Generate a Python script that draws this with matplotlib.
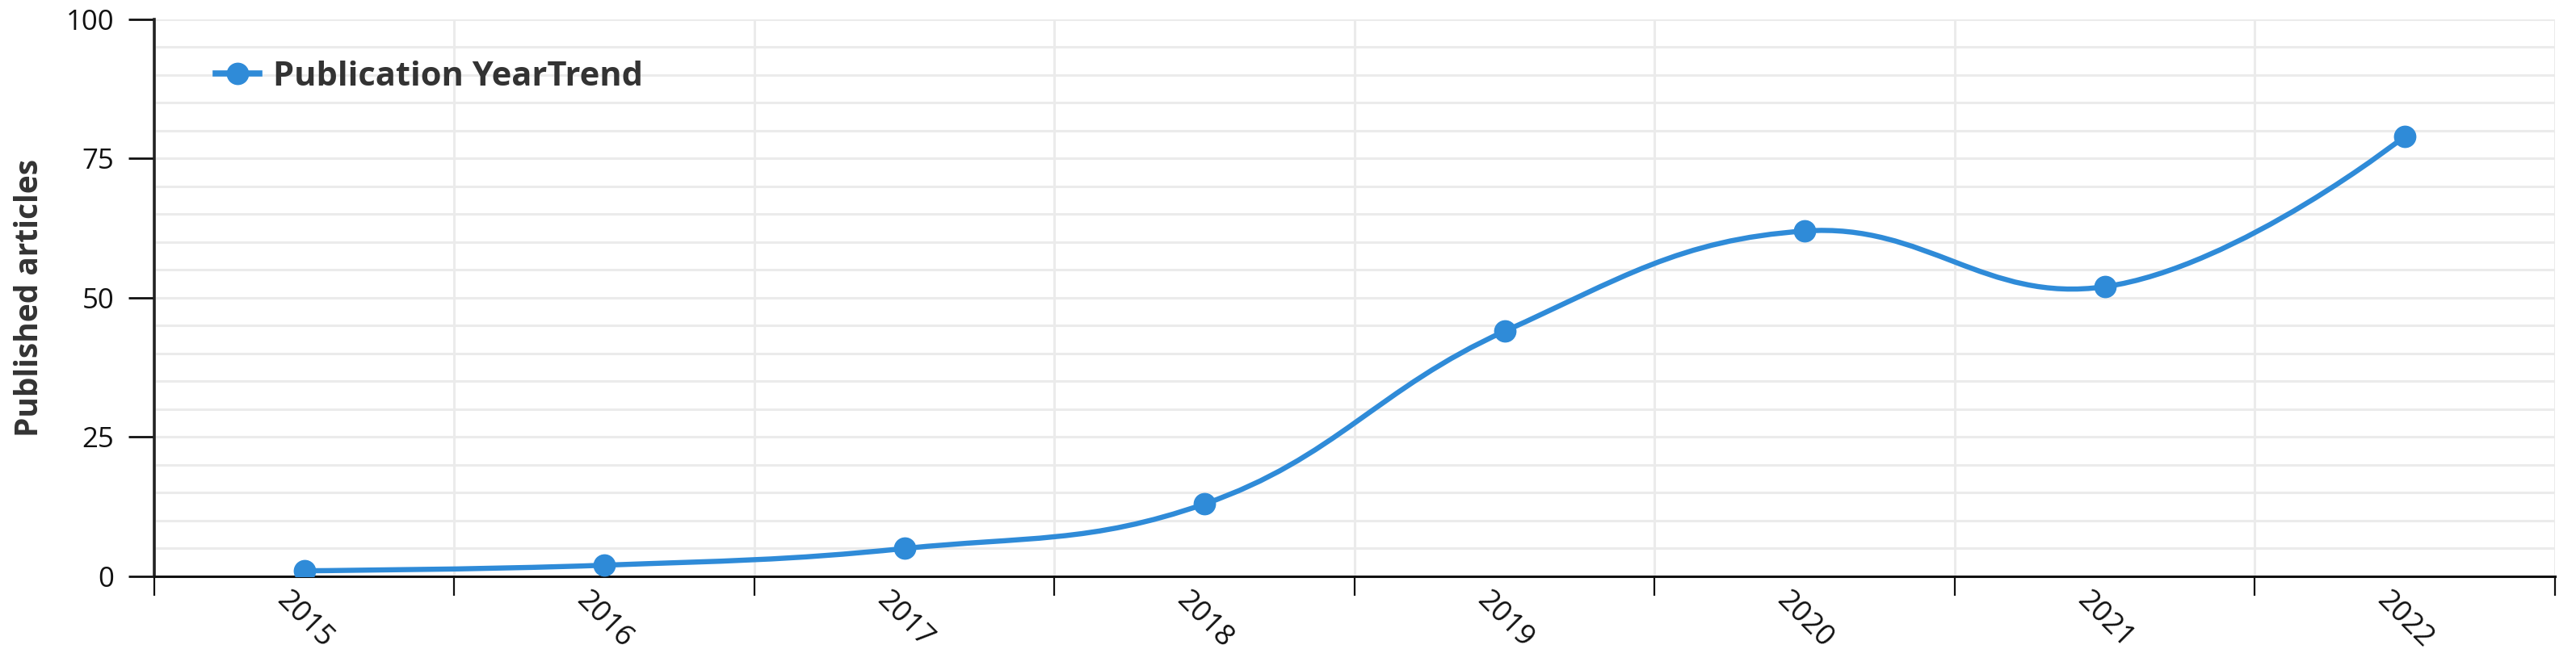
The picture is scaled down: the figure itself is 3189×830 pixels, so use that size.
import numpy as np
import matplotlib.pyplot as plt
from matplotlib.path import Path
from matplotlib.patches import PathPatch
from matplotlib.lines import Line2D
from matplotlib.ticker import MultipleLocator

years = [2015, 2016, 2017, 2018, 2019, 2020, 2021, 2022]
articles = [1, 2, 5, 13, 44, 62, 52, 79]
series_name = "Publication YearTrend"
y_label = "Published articles"
y_ticks = [0, 25, 50, 75, 100]

blue = "#2f8bd8"
grid_col = "#ebebeb"

plt.rcParams['font.family'] = ['Open Sans', 'DejaVu Sans']


def spline_ctrl(px, py, smoothing=1.5):
    # highcharts-like spline: control points computed in pixel space
    n = len(px)
    denom = smoothing + 1
    left = [(px[i], py[i]) for i in range(n)]
    right = [(px[i], py[i]) for i in range(n)]
    for i in range(1, n - 1):
        x, y = px[i], py[i]
        lx, ly = px[i - 1], py[i - 1]
        nx, ny = px[i + 1], py[i + 1]
        lcx = (smoothing * x + lx) / denom
        lcy = (smoothing * y + ly) / denom
        rcx = (smoothing * x + nx) / denom
        rcy = (smoothing * y + ny) / denom
        dl = np.hypot(lcx - x, lcy - y)
        dr = np.hypot(rcx - x, rcy - y)
        la = np.arctan2(lcy - y, lcx - x)
        ra = np.arctan2(rcy - y, rcx - x)
        ja = np.pi / 2 + (la + ra) / 2
        if abs(la - ja) > np.pi / 2:
            ja -= np.pi
        left[i] = (x + np.cos(ja) * dl, y + np.sin(ja) * dl)
        right[i] = (x + np.cos(np.pi + ja) * dr, y + np.sin(np.pi + ja) * dr)
    verts = [(px[0], py[0])]
    codes = [Path.MOVETO]
    for i in range(1, n):
        verts += [right[i - 1], left[i], (px[i], py[i])]
        codes += [Path.CURVE4] * 3
    return verts, codes


fig = plt.figure(figsize=(31.89, 8.30), dpi=100)
ax = fig.add_axes([0.0599, 0.1398, 0.9319, 0.8313])
ax.set_xlim(years[0] - 0.5, years[-1] + 0.5)
ax.set_ylim(0, 100)

# grid
ax.set_xticks(np.arange(years[0] - 0.5, years[-1] + 1, 1))
ax.set_xticklabels([])
ax.set_xticks(years, [str(y) for y in years], minor=True,
              rotation=-45, ha='center', va='center', rotation_mode='anchor')
ax.set_yticks(y_ticks)
ax.yaxis.set_minor_locator(MultipleLocator(5))
ax.grid(True, which='major', color=grid_col, lw=2.2, zorder=0)
ax.grid(True, which='minor', axis='y', color=grid_col, lw=2.2, zorder=0)
ax.set_axisbelow(True)

for s in ['top', 'right']:
    ax.spines[s].set_visible(False)
ax.spines['left'].set_color('#222222')
ax.spines['left'].set_linewidth(2.6)
ax.spines['bottom'].set_color('#111111')
ax.spines['bottom'].set_linewidth(2.2)

ax.tick_params(axis='y', which='major', length=23, width=2, pad=13,
               labelsize=25, colors='#111111')
ax.tick_params(axis='y', which='minor', length=0)
ax.tick_params(axis='x', which='major', length=17, width=1.6, color='#111111')
ax.tick_params(axis='x', which='minor', length=0, pad=39, labelsize=26,
               labelcolor='#111111')

ax.set_ylabel(y_label, fontsize=28, fontweight='bold', color='#333333')
ax.yaxis.set_label_coords(-0.0455, 0.5)

# smooth line
pts = ax.transData.transform(np.column_stack([years, articles]))
verts, codes = spline_ctrl(pts[:, 0], pts[:, 1])
verts = ax.transData.inverted().transform(np.array(verts))
ax.add_patch(PathPatch(Path(verts, codes), facecolor='none', edgecolor=blue,
                       lw=4.6, zorder=3, capstyle='round'))
ax.plot(years, articles, 'o', color=blue, ms=19, zorder=4)

handle = Line2D([], [], color=blue, lw=5.5, marker='o', ms=19)
ax.legend([handle], [series_name], loc='center left', bbox_to_anchor=(0.0256, 0.897),
          frameon=False, borderpad=0, borderaxespad=0, handlelength=1.3,
          handletextpad=0.4, prop={'size': 30, 'weight': 'bold'},
          labelcolor='#333333')

fig.savefig('out.png', dpi=100, facecolor='white')
